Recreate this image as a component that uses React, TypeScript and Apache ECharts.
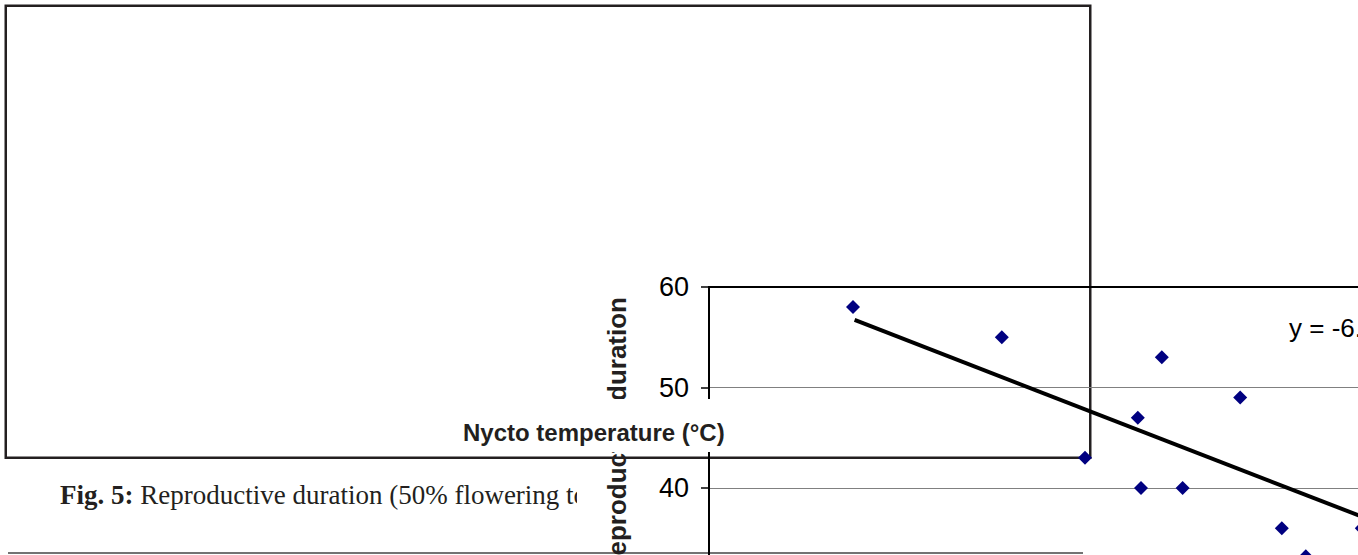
import React, { useEffect, useRef } from "react";
import * as echarts from "echarts";

// Nycto temperature (°C)
const tempValues = [15.9, 16.83, 17.35, 17.68, 17.7, 17.83, 17.96, 18.32, 18.58, 18.73, 19.08];
// Reproductive duration (days)
const durationValues = [58, 55, 43, 47, 40, 53, 40, 49, 36, 33.2, 36];
// Linear trendline end points
const trendX = [15.91, 19.5];
const trendY = [56.72, 34.56];
const yTicks = [20, 30, 40, 50, 60];
const equationText = "y = -6.1776x + 155.03";
const xAxisTitle = "Nycto temperature (°C)";
const yAxisTitle = "Reproductive duration";
const captionBold = "Fig. 5:";
const captionRest = " Reproductive duration (50% flowering to";

const SANS = "'Liberation Sans', Arial, sans-serif";
const SERIF = "'Liberation Serif', 'Times New Roman', serif";

export default function App() {
  const ref = useRef<HTMLDivElement>(null);
  useEffect(() => {
    if (!ref.current) return;
    const chart = echarts.init(ref.current, undefined, { renderer: "svg" });
    const scatterData = tempValues.map((t, i) => [t, durationValues[i]]);
    const trendData = trendX.map((x, i) => [x, trendY[i]]);
    chart.setOption({
      animation: false,
      backgroundColor: "#fff",
      grid: {
        left: 709,
        top: 287,
        width: 960,
        height: 402,
        containLabel: false,
        outerBoundsMode: "none",
        show: true,
        borderColor: "#000",
        borderWidth: 2,
        backgroundColor: "transparent",
        z: 1,
      },
      xAxis: {
        type: "value",
        min: 15,
        max: 21,
        interval: 1,
        axisLine: { show: true, lineStyle: { color: "#000", width: 2 } },
        axisTick: { show: true, length: 8, lineStyle: { color: "#000" } },
        splitLine: { show: false },
        axisLabel: { fontSize: 27, color: "#000", fontFamily: SANS },
      },
      yAxis: {
        type: "value",
        min: yTicks[0],
        max: yTicks[yTicks.length - 1],
        interval: 10,
        axisLine: { show: true, lineStyle: { color: "#000", width: 2 } },
        axisTick: { show: true, length: 8, lineStyle: { color: "#000", width: 1.5 } },
        splitLine: { show: true, lineStyle: { color: "#808080", width: 1 } },
        axisLabel: { fontSize: 27, color: "#000", fontFamily: SANS, margin: 20 },
      },
      series: [
        {
          type: "line",
          data: trendData,
          symbol: "none",
          lineStyle: { color: "#000", width: 4 },
          z: 3,
          silent: true,
        },
        {
          type: "scatter",
          data: scatterData,
          symbol: "diamond",
          symbolSize: 14,
          itemStyle: { color: "#000080", opacity: 1 },
          z: 4,
        },
      ],
      graphic: [
        {
          type: "rect",
          z: 0,
          shape: { x: 5.75, y: 5.75, width: 1084.5, height: 452 },
          style: { fill: "none", stroke: "#231f20", lineWidth: 2.5 },
          silent: true,
        },
        {
          type: "line",
          z: 0,
          shape: { x1: 8, y1: 553, x2: 1083, y2: 553 },
          style: { stroke: "#444", lineWidth: 1.5 },
          silent: true,
        },
        {
          type: "text",
          z: 50,
          x: 617,
          y: 297,
          rotation: Math.PI / 2,
          style: {
            text: yAxisTitle,
            font: `bold 26px ${SANS}`,
            fill: "#231f20",
            align: "right",
            verticalAlign: "middle",
          },
        },
        {
          type: "rect",
          z: 100,
          shape: { x: 455, y: 399, width: 282, height: 53 },
          style: { fill: "#fff" },
          silent: true,
        },
        {
          type: "text",
          z: 101,
          x: 463,
          y: 432,
          style: {
            text: xAxisTitle,
            font: `bold 24px ${SANS}`,
            fill: "#231f20",
            align: "left",
            verticalAlign: "middle",
          },
        },
        {
          type: "text",
          z: 50,
          x: 1289,
          y: 328,
          style: {
            text: equationText,
            font: `26px ${SANS}`,
            fill: "#000",
            align: "left",
            verticalAlign: "middle",
          },
        },
        {
          type: "text",
          z: 40,
          x: 60,
          y: 495,
          style: {
            text: `{b|${captionBold}}{r|${captionRest}}`,
            verticalAlign: "middle",
            align: "left",
            rich: {
              b: { font: `bold 27px ${SERIF}`, fill: "#231f20" },
              r: { font: `27px ${SERIF}`, fill: "#231f20" },
            },
          },
        },
        {
          type: "rect",
          z: 45,
          shape: { x: 577, y: 470, width: 26, height: 45 },
          style: { fill: "#fff" },
          silent: true,
        },
      ],
    });
    return () => chart.dispose();
  }, []);
  return (
    <div
      ref={ref}
      style={{ position: "absolute", left: 0, top: 0, width: 1358, height: 555, overflow: "hidden", background: "#fff" }}
    />
  );
}
